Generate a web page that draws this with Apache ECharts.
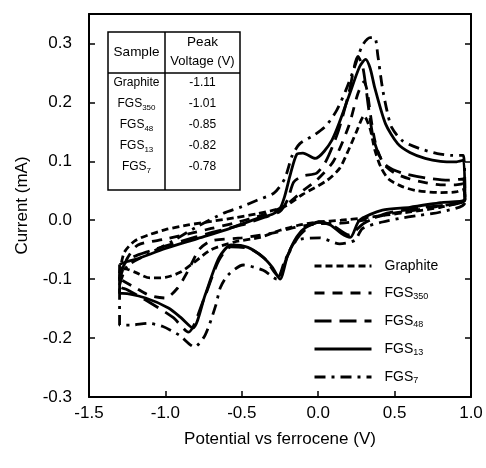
<!DOCTYPE html>
<html>
<head>
<meta charset="utf-8">
<script src="https://cdn.jsdelivr.net/npm/echarts@6/dist/echarts.min.js"></script>
<style>
  html, body { margin: 0; padding: 0; background: #fff; }
  #chart { width: 486px; height: 468px; }
</style>
</head>
<body>
<div id="chart"></div>
<script>
  // cyclic voltammograms, [potential (V), current (mA)]
  var graphite = [
    [-1.30, -0.090], [-1.27, -0.055], [-1.20, -0.035], [-1.10, -0.024], [-1.00, -0.016], [-0.85, -0.008],
    [-0.70, -0.002], [-0.55, 0.004], [-0.40, 0.011], [-0.23, 0.022], [-0.10, 0.044], [0.06, 0.068],
    [0.14, 0.088], [0.20, 0.120], [0.25, 0.150], [0.30, 0.177], [0.34, 0.155], [0.37, 0.120],
    [0.41, 0.090], [0.46, 0.070], [0.55, 0.057], [0.65, 0.050], [0.80, 0.047], [0.90, 0.048], [0.95, 0.052],
    [0.96, 0.035], [0.80, 0.022], [0.60, 0.014], [0.45, 0.009], [0.30, 0.004], [0.15, 0.000],
    [0.00, -0.003], [-0.12, -0.008], [-0.25, -0.017], [-0.38, -0.029], [-0.55, -0.037], [-0.70, -0.050],
    [-0.81, -0.071], [-0.90, -0.088], [-1.00, -0.097], [-1.10, -0.098], [-1.20, -0.088], [-1.27, -0.082], [-1.30, -0.090]
  ];
  var fgs350 = [
    [-1.30, -0.100], [-1.25, -0.065], [-1.18, -0.042], [-1.00, -0.032], [-0.83, -0.022], [-0.70, -0.014],
    [-0.55, -0.005], [-0.40, 0.006], [-0.30, 0.014], [-0.20, 0.028], [-0.10, 0.050], [-0.01, 0.068],
    [0.10, 0.100], [0.20, 0.160], [0.26, 0.215], [0.30, 0.235], [0.32, 0.220], [0.35, 0.165],
    [0.38, 0.125], [0.43, 0.095], [0.50, 0.080], [0.60, 0.070], [0.70, 0.064], [0.80, 0.060], [0.90, 0.060], [0.95, 0.062],
    [0.96, 0.036], [0.70, 0.020], [0.45, 0.010], [0.30, 0.000], [0.15, -0.005], [0.00, -0.006],
    [-0.15, -0.012], [-0.30, -0.022], [-0.50, -0.030], [-0.70, -0.035], [-0.78, -0.050], [-0.85, -0.085],
    [-0.92, -0.115], [-1.00, -0.132], [-1.10, -0.128], [-1.20, -0.114], [-1.27, -0.104], [-1.30, -0.100]
  ];
  var fgs48 = [
    [-1.30, -0.095], [-1.25, -0.068], [-1.10, -0.052], [-0.90, -0.036], [-0.70, -0.021], [-0.50, -0.008],
    [-0.35, 0.005], [-0.25, 0.015], [-0.20, 0.035], [-0.16, 0.065], [-0.10, 0.075], [-0.01, 0.080],
    [0.05, 0.100], [0.13, 0.150], [0.20, 0.215], [0.26, 0.278], [0.29, 0.262], [0.31, 0.230],
    [0.33, 0.190], [0.36, 0.140], [0.40, 0.110], [0.45, 0.092], [0.55, 0.080], [0.70, 0.072], [0.85, 0.068], [0.95, 0.070],
    [0.96, 0.034], [0.70, 0.022], [0.45, 0.012], [0.30, -0.005], [0.20, -0.025], [0.10, -0.010],
    [0.00, -0.003], [-0.12, -0.025], [-0.20, -0.060], [-0.26, -0.095], [-0.35, -0.065], [-0.45, -0.048],
    [-0.57, -0.045], [-0.65, -0.068], [-0.75, -0.135], [-0.85, -0.190], [-0.95, -0.165], [-1.10, -0.140],
    [-1.25, -0.118], [-1.30, -0.112], [-1.30, -0.095]
  ];
  var fgs13 = [
    [-1.30, -0.075], [-1.25, -0.070], [-1.19, -0.066], [-1.00, -0.048], [-0.80, -0.032], [-0.60, -0.016],
    [-0.41, 0.002], [-0.30, 0.010], [-0.25, 0.020], [-0.22, 0.040], [-0.18, 0.080], [-0.14, 0.112],
    [-0.10, 0.114], [-0.02, 0.105], [0.09, 0.136], [0.20, 0.210], [0.27, 0.260], [0.31, 0.273],
    [0.34, 0.258], [0.37, 0.225], [0.44, 0.164], [0.52, 0.130], [0.60, 0.115], [0.70, 0.105], [0.80, 0.100], [0.90, 0.099], [0.95, 0.102],
    [0.96, 0.036], [0.80, 0.030], [0.60, 0.022], [0.42, 0.017], [0.27, 0.000], [0.21, -0.029],
    [0.15, -0.022], [0.08, -0.008], [0.01, -0.003], [-0.08, -0.012], [-0.14, -0.028], [-0.20, -0.060],
    [-0.25, -0.100], [-0.30, -0.080], [-0.36, -0.063], [-0.46, -0.046], [-0.57, -0.042], [-0.65, -0.064],
    [-0.74, -0.127], [-0.82, -0.183], [-0.90, -0.165], [-0.98, -0.149], [-1.13, -0.132], [-1.28, -0.124],
    [-1.30, -0.124], [-1.30, -0.075]
  ];
  var fgs7 = [
    [-1.30, -0.110], [-1.25, -0.078], [-1.10, -0.056], [-0.95, -0.035], [-0.80, -0.012], [-0.62, 0.012],
    [-0.50, 0.023], [-0.40, 0.034], [-0.29, 0.046], [-0.22, 0.070], [-0.17, 0.110], [-0.12, 0.130],
    [-0.03, 0.144], [0.05, 0.160], [0.12, 0.186], [0.18, 0.220], [0.23, 0.254], [0.29, 0.297],
    [0.34, 0.310], [0.37, 0.310], [0.39, 0.280], [0.42, 0.225], [0.45, 0.186], [0.48, 0.158],
    [0.55, 0.135], [0.66, 0.122], [0.78, 0.113], [0.88, 0.110], [0.95, 0.110],
    [0.96, 0.030], [0.80, 0.014], [0.65, 0.008], [0.53, 0.003], [0.42, -0.003], [0.29, -0.014],
    [0.24, -0.034], [0.14, -0.040], [0.01, -0.030], [-0.14, -0.034], [-0.22, -0.070], [-0.27, -0.100],
    [-0.36, -0.085], [-0.49, -0.076], [-0.59, -0.093], [-0.64, -0.114], [-0.67, -0.144], [-0.74, -0.195],
    [-0.81, -0.215], [-0.91, -0.195], [-1.02, -0.180], [-1.11, -0.175], [-1.23, -0.178], [-1.30, -0.178],
    [-1.30, -0.110]
  ];

  var seriesNames = ['Graphite', 'FGS350', 'FGS48', 'FGS13', 'FGS7'];
  var seriesData = [graphite, fgs350, fgs48, fgs13, fgs7];
  var dashTypes = [[7, 4], [10, 8], [17, 8], 'solid', [11, 6, 3, 6]];

  // inset table
  var tableSamples = ['Graphite', 'FGS350', 'FGS48', 'FGS13', 'FGS7'];
  var tablePeaks = ['-1.11', '-1.01', '-0.85', '-0.82', '-0.78'];

  var xTicks = [-1.5, -1.0, -0.5, 0.0, 0.5, 1.0];
  var yTicks = [-0.3, -0.2, -0.1, 0.0, 0.1, 0.2, 0.3];

  var FONT = '"Liberation Sans", Arial, sans-serif';

  function withSub(name) {
    return name.replace(/^FGS(\d+)$/, 'FGS{sub|$1}');
  }

  var chart = echarts.init(document.getElementById('chart'), null, { renderer: 'canvas' });

  var series = seriesNames.map(function (name, i) {
    return {
      name: name,
      type: 'line',
      data: seriesData[i],
      symbol: 'none',
      smooth: 0.25,
      clip: false,
      lineStyle: { color: '#000', width: 2.8, type: dashTypes[i] },
      itemStyle: { color: '#000' }
    };
  });

  // table graphic
  var tx = 108, ty = 32, tw = 132, th = 158, colX = 165, headY = 73;
  var rowY = [83, 104, 125, 146, 167];
  var tableEls = [
    { type: 'rect', shape: { x: tx, y: ty, width: tw, height: th }, style: { fill: '#fff', stroke: '#000', lineWidth: 1.5 }, z: 100 },
    { type: 'line', shape: { x1: tx, y1: headY, x2: tx + tw, y2: headY }, style: { stroke: '#000', lineWidth: 1.5 }, z: 101 },
    { type: 'line', shape: { x1: colX, y1: ty, x2: colX, y2: ty + th }, style: { stroke: '#000', lineWidth: 1.5 }, z: 101 },
    { type: 'text', x: (tx + colX) / 2, y: 52, z: 102,
      style: { text: 'Sample', font: '13.5px ' + FONT, fill: '#000', align: 'center', verticalAlign: 'middle', textAlign: 'center', textVerticalAlign: 'middle' } },
    { type: 'text', x: (colX + tx + tw) / 2, y: 42, z: 102,
      style: { text: 'Peak', font: '13.5px ' + FONT, fill: '#000', align: 'center', verticalAlign: 'middle', textAlign: 'center', textVerticalAlign: 'middle' } },
    { type: 'text', x: (colX + tx + tw) / 2, y: 61, z: 102,
      style: { text: 'Voltage (V)', font: '13px ' + FONT, fill: '#000', align: 'center', verticalAlign: 'middle', textAlign: 'center', textVerticalAlign: 'middle' } }
  ];
  tableSamples.forEach(function (s, i) {
    tableEls.push({ type: 'text', x: (tx + colX) / 2, y: rowY[i], z: 102,
      style: {
        text: withSub(s), font: '12px ' + FONT, fill: '#000',
        align: 'center', verticalAlign: 'middle', textAlign: 'center', textVerticalAlign: 'middle',
        rich: { sub: { fontSize: 8, fontFamily: FONT, fill: '#000', padding: [7, 0, 0, 0], verticalAlign: 'bottom' } }
      } });
    tableEls.push({ type: 'text', x: (colX + tx + tw) / 2, y: rowY[i], z: 102,
      style: { text: tablePeaks[i], font: '12px ' + FONT, fill: '#000', align: 'center', verticalAlign: 'middle', textAlign: 'center', textVerticalAlign: 'middle' } });
  });

  chart.setOption({
    backgroundColor: '#fff',
    animation: false,
    grid: { left: 89, right: 15, top: 14, bottom: 71, containLabel: false },
    legend: {
      orient: 'vertical',
      left: 308,
      top: 254,
      itemWidth: 57,
      itemHeight: 14,
      itemGap: 13,
      data: seriesNames,
      formatter: withSub,
      itemStyle: { color: 'transparent', borderColor: 'transparent', borderWidth: 0, opacity: 0 },
      lineStyle: { width: 3 },
      textStyle: {
        fontFamily: FONT, fontSize: 14, color: '#000', padding: [0, 0, 0, 8],
        rich: { sub: { fontSize: 9, fontFamily: FONT, color: '#000', padding: [7, 0, 0, 0], verticalAlign: 'bottom' } }
      }
    },
    xAxis: [{
      type: 'value',
      min: -1.5,
      max: 1.0,
      interval: 0.5,
      name: 'Potential vs ferrocene (V)',
      nameLocation: 'middle',
      nameGap: 34,
      nameTextStyle: { fontFamily: FONT, fontSize: 17, color: '#000' },
      axisLine: { onZero: false, lineStyle: { color: '#000', width: 2 } },
      axisTick: { inside: true, length: 6, lineStyle: { color: '#000', width: 1.5 } },
      axisLabel: { margin: 8, fontFamily: FONT, fontSize: 17, color: '#000',
        formatter: function (v) { return xTicks.indexOf(Math.round(v * 10) / 10) >= 0 ? v.toFixed(1) : ''; } },
      splitLine: { show: false }
    }, {
      type: 'value',
      position: 'top',
      min: -1.5,
      max: 1.0,
      interval: 0.5,
      axisLine: { onZero: false, lineStyle: { color: '#000', width: 2 } },
      axisTick: { show: false },
      axisLabel: { show: false },
      splitLine: { show: false }
    }],
    yAxis: [{
      type: 'value',
      min: -0.3,
      max: 0.35,
      interval: 0.1,
      name: 'Current (mA)',
      nameLocation: 'middle',
      nameGap: 58,
      nameTextStyle: { fontFamily: FONT, fontSize: 17, color: '#000' },
      axisLine: { onZero: false, lineStyle: { color: '#000', width: 2 } },
      axisTick: { inside: true, length: 6, lineStyle: { color: '#000', width: 1.5 } },
      axisLabel: { margin: 17, fontFamily: FONT, fontSize: 17, color: '#000',
        formatter: function (v) { return yTicks.indexOf(Math.round(v * 10) / 10) >= 0 && v < 0.31 ? v.toFixed(1) : ''; } },
      splitLine: { show: false }
    }, {
      type: 'value',
      position: 'right',
      min: -0.3,
      max: 0.35,
      interval: 0.1,
      axisLine: { onZero: false, lineStyle: { color: '#000', width: 2 } },
      axisTick: { inside: true, length: 6, lineStyle: { color: '#000', width: 1.5 } },
      axisLabel: { show: false },
      splitLine: { show: false }
    }],
    graphic: tableEls,
    series: series
  });
</script>
</body>
</html>
